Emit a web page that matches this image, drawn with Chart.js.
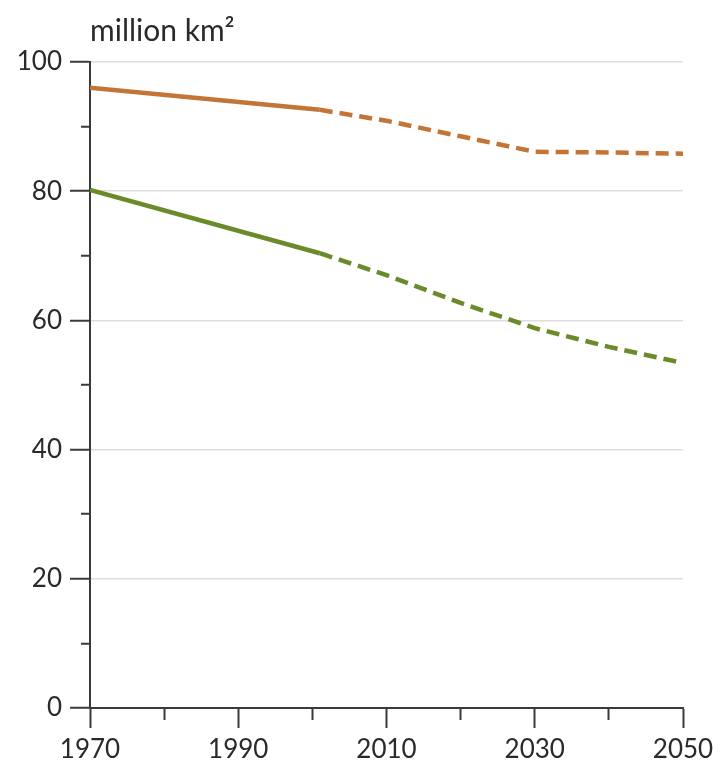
<!DOCTYPE html>
<html>
<head>
<meta charset="utf-8">
<script src="https://cdn.jsdelivr.net/npm/chart.js@4/dist/chart.umd.min.js"></script>
<style>
  html, body { margin: 0; padding: 0; background: #fff; }
  #wrap { width: 720px; height: 770px; }
</style>
</head>
<body>
<div id="wrap"><canvas id="lineChart"></canvas></div>
<script>
// data
const years = [1970, 2001, 2010, 2020, 2030, 2040, 2050];
const orangeSeries = [96.0, 92.6, 90.9, 88.5, 86.1, 86.0, 85.8];
const greenSeries = [80.2, 70.4, 67.0, 62.7, 58.8, 55.9, 53.4];
const projectionStart = 2001; // dashed after this year
const unitLabel = "million km\u00B2";

const axisColor = "#3a3a3a";
const gridColor = "#dedede";
const textColor = "#2a2a2a";
const fontFamily = "Lato, 'Open Sans', sans-serif";

function toPoints(values) {
    return values.map((v, i) => ({ x: years[i], y: v }));
}

const dashed = ctx => ctx.p0.parsed.x >= projectionStart ? [13, 7] : undefined;

const ctx = document.getElementById("lineChart").getContext("2d");

new Chart(ctx, {
    type: "line",
    data: {
        datasets: [{
            label: "orange",
            data: toPoints(orangeSeries),
            borderColor: "#c27536",
            borderWidth: 4.5,
            pointRadius: 0,
            tension: 0,
            segment: { borderDash: dashed }
        }, {
            label: "green",
            data: toPoints(greenSeries),
            borderColor: "#6b8a29",
            borderWidth: 4.5,
            pointRadius: 0,
            tension: 0,
            segment: { borderDash: dashed }
        }]
    },
    options: {
        responsive: true,
        maintainAspectRatio: false,
        animation: false,
        layout: { padding: { left: 0, right: 37, top: 0, bottom: 0 } },
        plugins: {
            legend: { display: false },
            tooltip: { enabled: false },
            title: {
                display: true,
                text: unitLabel,
                align: "start",
                fullSize: false,
                color: textColor,
                font: { family: fontFamily, size: 30, weight: "normal" },
                padding: { top: 13, bottom: 13 }
            }
        },
        scales: {
            x: {
                type: "linear",
                min: 1970,
                max: 2050,
                border: { display: true, color: axisColor, width: 2 },
                grid: {
                    drawOnChartArea: false,
                    drawTicks: true,
                    tickLength: 20,
                    tickColor: axisColor,
                    tickWidth: 2,
                    // labelled decades get full ticks, the others short ones
                    tickBorderDash: c => (c.tick && (c.tick.value - 1970) % 20 === 0) ? [] : [11, 100]
                },
                ticks: {
                    stepSize: 10,
                    autoSkip: false,
                    maxRotation: 0,
                    padding: 6,
                    color: textColor,
                    font: { family: fontFamily, size: 26 },
                    callback: v => (v - 1970) % 20 === 0 ? String(v) : ""
                },
                afterFit: scale => { scale.height = 62; }
            },
            y: {
                min: 0,
                max: 100,
                border: { display: true, color: axisColor, width: 2 },
                grid: {
                    color: c => (c.tick && c.tick.value > 0 && c.tick.value % 20 === 0) ? gridColor : "rgba(0,0,0,0)",
                    lineWidth: 1.5,
                    drawTicks: true,
                    tickLength: 20,
                    tickColor: axisColor,
                    tickWidth: 2,
                    tickBorderDash: c => (c.tick && c.tick.value % 20 === 0) ? [] : [0, 11, 9, 100]
                },
                ticks: {
                    stepSize: 10,
                    autoSkip: false,
                    padding: 8,
                    color: textColor,
                    font: { family: fontFamily, size: 26 },
                    callback: v => v % 20 === 0 ? String(v) : ""
                },
                afterFit: scale => { scale.width = 90; }
            }
        }
    }
});
</script>
</body>
</html>
